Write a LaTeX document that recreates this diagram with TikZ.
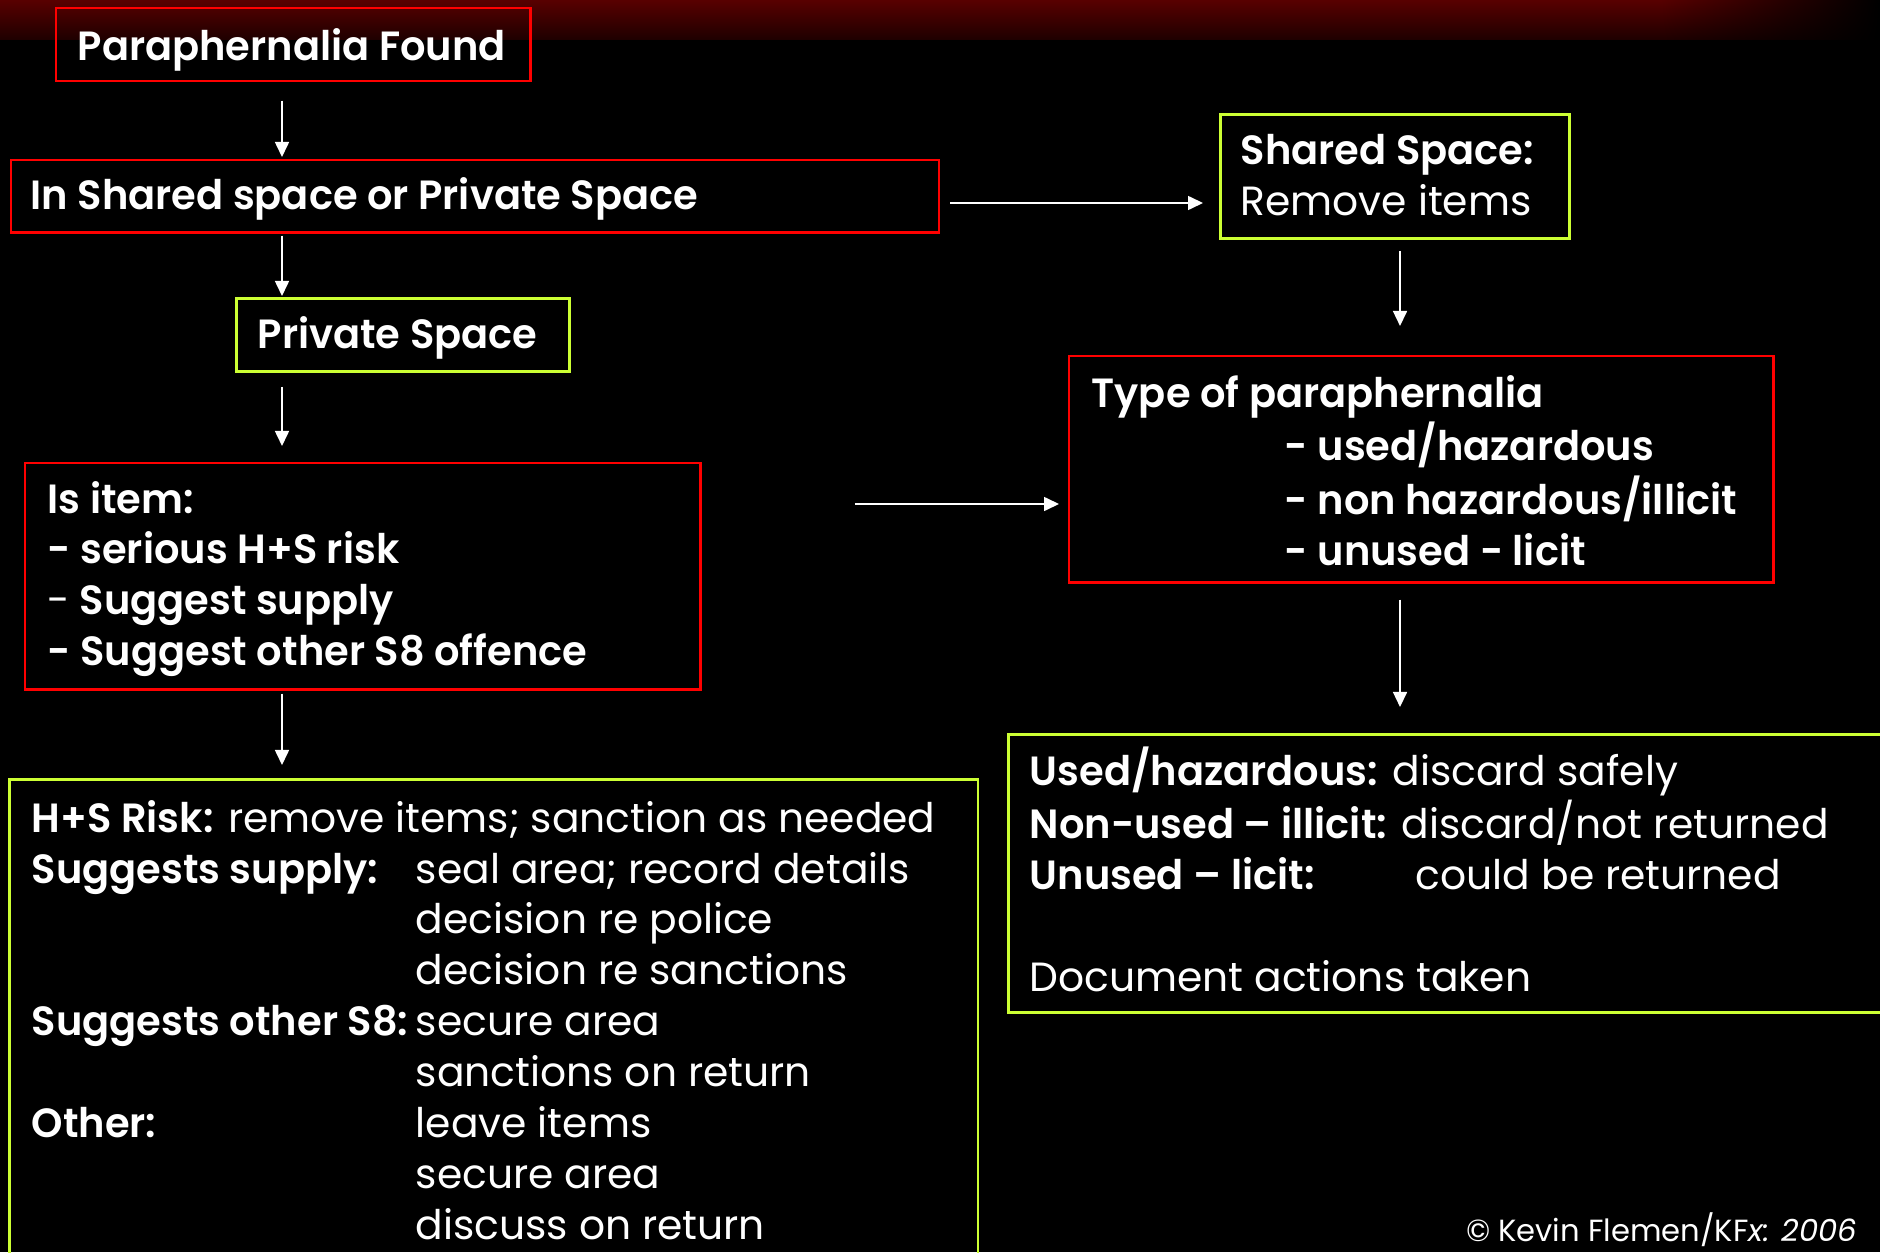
\documentclass[tikz,border=0pt]{standalone}
\usepackage{fontspec}
\setmainfont{Poppins}[BoldFont={Poppins SemiBold},BoldFeatures={FakeStretch=0.98}]
\usetikzlibrary{arrows.meta,fadings}
\definecolor{boxred}{RGB}{255,0,0}
\definecolor{boxgreen}{RGB}{204,255,51}
\definecolor{topred}{RGB}{88,0,0}
\definecolor{topdark}{RGB}{30,0,0}
\tikzset{
  redbox/.style={draw=boxred,line width=0.7pt,anchor=north west,inner sep=0pt},
  greenbox/.style={draw=boxgreen,line width=0.8pt,anchor=north west,inner sep=0pt},
  txt/.style={text=white,anchor=base west,inner sep=0pt,font=\fontsize{11.6}{14.5}\selectfont},
  boldtxt/.style={txt,font=\fontsize{11.6}{14.5}\selectfont\bfseries},
  arr/.style={white,line width=0.45pt,-{Triangle[length=0.15cm,width=0.14cm]}}
}
\newcommand{\lead}[1]{\makebox[3.84cm][l]{#1}}
\begin{document}
\begin{tikzpicture}[x=0.01cm,y=-0.01cm]
\useasboundingbox (0,0) rectangle (1880,1252);
% Background
\fill[black] (0,0) rectangle (1880,1252);
\shade[top color=topred,bottom color=topdark] (0,0) rectangle (1880,40);
\fill[black,path fading=west] (1660,0) rectangle (1880,40);

% Boxes
\node[redbox,minimum width=4.74cm,minimum height=0.73cm] (found) at (55,7) {};
\node[redbox,minimum width=9.27cm,minimum height=0.72cm] (choice) at (10,159) {};
\node[greenbox,minimum width=3.49cm,minimum height=1.24cm] (shared) at (1219,113) {};
\node[greenbox,minimum width=3.33cm,minimum height=0.73cm] (private) at (235,297) {};
\node[redbox,minimum width=6.75cm,minimum height=2.26cm] (isitem) at (24,462) {};
\node[redbox,minimum width=7.04cm,minimum height=2.26cm] (kind) at (1068,355) {};
\node[greenbox,minimum width=8.75cm,minimum height=2.78cm] (outcome) at (1007,733) {};
\node[greenbox,minimum width=9.68cm,minimum height=5.00cm] (actions) at (8,778) {};

% Box texts
\node[boldtxt] (foundtxt) at (77,61) {Paraphernalia Found};
\node[boldtxt] (choicetxt) at (30,210) {In Shared space or Private Space};
\node[txt] (sharedtxt) at (1240,165) {\begin{tabular}[t]{@{}l@{}}
  \textbf{Shared Space:}\\ Remove items\end{tabular}};
\node[boldtxt] (privatetxt) at (257,348) {Private Space};
\node[boldtxt] (isitemtxt) at (47,513) {\begin{tabular}[t]{@{}l@{}}
  Is item:\\
  - serious H+S risk\\
  {\mdseries -} Suggest supply\\
  - Suggest other S8 offence\end{tabular}};
\node[boldtxt] (kindtxt) at (1091,407) {\begin{tabular}[t]{@{}l@{}}
  Type of paraphernalia\\
  \hspace{1.93cm}- used/hazardous\\
  \hspace{1.93cm}- non hazardous/illicit\\
  \hspace{1.93cm}- unused - licit\end{tabular}};
\node[txt] (outcometxt) at (1029,785) {\begin{tabular}[t]{@{}l@{}}
  \textbf{Used/hazardous:} discard safely\\
  \textbf{Non-used – illicit:} discard/not returned\\
  \makebox[3.86cm][l]{\textbf{Unused – licit:}}could be returned\\[14.5pt]
  Document actions taken\end{tabular}};
\node[txt] (actionstxt) at (31,832) {\begin{tabular}[t]{@{}l@{}}
  \textbf{H+S Risk:} remove items; sanction as needed\\
  \lead{\textbf{Suggests supply:}}seal area; record details\\
  \lead{}decision re police\\
  \lead{}decision re sanctions\\
  \lead{\textbf{Suggests other S8:}}secure area\\
  \lead{}sanctions on return\\
  \lead{\textbf{Other:}}leave items\\
  \lead{}secure area\\
  \lead{}discuss on return\end{tabular}};
\node[txt,anchor=base east,font=\fontsize{8.7}{11}\selectfont] (credit) at (1858,1241) {© Kevin Flemen/KF\textit{x: 2006}};

% Arrows
\coordinate (spine) at (282,0);
\coordinate (spineR) at (1400,0);
\coordinate (rowA) at (0,203);
\coordinate (rowB) at (0,504);
\draw[arr,shorten <=0.18cm,shorten >=0.02cm] (found.south -| spine) -- (choice.north -| spine);
\draw[arr,shorten <=0.02cm,shorten >=0.01cm] (choice.south -| spine) -- (private.north -| spine);
\draw[arr,shorten <=0.14cm,shorten >=0.16cm] (private.south -| spine) -- (isitem.north -| spine);
\draw[arr,shorten <=0.03cm,shorten >=0.13cm] (isitem.south -| spine) -- (actions.north -| spine);
\draw[arr,shorten <=0.10cm,shorten >=0.16cm] (choice.east |- rowA) -- (shared.west |- rowA);
\draw[arr,shorten <=0.11cm,shorten >=0.29cm] (shared.south -| spineR) -- (kind.north -| spineR);
\draw[arr,shorten <=1.53cm,shorten >=0.09cm] (isitem.east |- rowB) -- (kind.west |- rowB);
\draw[arr,shorten <=0.16cm,shorten >=0.26cm] (kind.south -| spineR) -- (outcome.north -| spineR);
\end{tikzpicture}
\end{document}
